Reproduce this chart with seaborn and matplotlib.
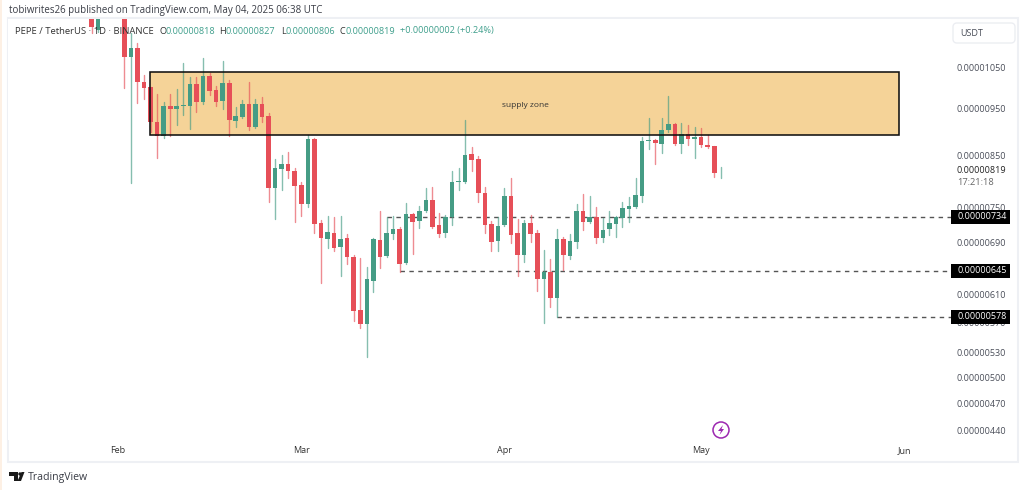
import numpy as np
import pandas as pd
import matplotlib
matplotlib.use("Agg")
import matplotlib.pyplot as plt
import matplotlib.dates as mdates
from matplotlib.patches import Rectangle, Polygon, Circle, FancyBboxPatch
import seaborn as sns

nan = float("nan")
SCALE = 1e-8
first_day = "2025-01-28"
opens = [1240,1147,nan,nan,nan,
 1240,1076,1099,1013,1001,921,890,956,949,956,956,1008,965,1028,994,968,1011,923,932,961,910,961,934,786,823,833,819,791,757,884,
 723,696,706,683,697,667,587,568,630,694,668,704,713,657,739,726,744,764,720,706,733,797,797,853,843,777,721,692,720,771,
 706,670,723,706,632,643,604,696,668,691,744,725,733,697,713,721,732,748,751,771,880,882,874,903,916,874,895,884,888,872,869,818]
highs = [1240,1240,nan,nan,nan,
 1240,1139,1112,1030,1001,985,965,985,996,1060,1025,1025,1073,1035,1004,1065,1018,954,970,1013,972,977,941,843,851,857,825,797,892,886,
 728,735,733,735,704,670,665,651,697,744,733,735,716,758,741,753,786,788,741,737,819,825,925,867,849,788,726,733,786,805,
 730,728,737,711,678,664,713,699,704,757,775,771,751,732,744,735,760,769,805,888,929,884,929,980,918,918,914,910,907,892,869,827]
lows = [1139,1142,nan,nan,nan,
 999,795,963,972,899,845,886,890,914,936,905,943,961,982,956,949,890,910,929,903,907,921,760,730,782,805,725,735,751,706,
 626,681,676,637,656,572,563,525,613,649,667,696,643,656,672,714,742,714,699,699,720,782,795,819,760,706,676,676,718,689,
 637,659,691,615,569,591,577,646,664,681,711,723,689,691,702,699,716,725,749,760,863,833,855,899,872,855,872,845,867,865,807,806]
closes = [1155,1240,nan,nan,nan,
 1076,1099,1013,999,921,890,956,949,956,958,1008,965,1028,992,965,1011,925,934,961,910,961,932,786,825,833,819,790,757,884,721,
 697,708,681,696,667,586,568,632,696,667,706,713,656,739,725,744,764,716,704,733,797,799,851,841,777,720,691,718,771,702,
 670,723,704,632,643,604,696,670,692,744,725,733,697,711,723,733,749,753,773,880,882,876,903,916,874,895,884,888,872,867,815,819]

price_ticks = [1050,950,850,750,690,650,610,570,530,500,470,440]
tick_labels = ["0.00001050","0.00000950","0.00000850","0.00000750","0.00000690","0.00000650",
               "0.00000610","0.00000570","0.00000530","0.00000500","0.00000470","0.00000440"]
month_ticks = ["2025-02-01","2025-03-01","2025-04-01","2025-05-01","2025-06-01"]
month_labels = ["Feb","Mar","Apr","May","Jun"]
zone_span = ["2025-02-05 22:00","2025-05-31 03:00"]
zone_prices = [892,1038]
level_values = [734,645,578]
level_starts = ["2025-03-14","2025-03-16","2025-04-09"]
level_labels = ["0.00000734","0.00000645","0.00000578"]
last_price = 819
view_days = ["2025-01-15 06:00","2025-06-08 03:00"]
view_prices = [430.2,1177.8]

UP, DOWN = "#459c85", "#e64f58"
TXT = "#4a4e59"

sns.set_theme(style="white")
plt.rcParams["font.family"] = ["Open Sans", "DejaVu Sans"]

W, H = 1024, 490
fig = plt.figure(figsize=(W/100, H/100), dpi=100, facecolor="white")
ax = fig.add_axes([8/W, 1-440/H, (951-8)/W, (440-19)/H])
ax.set_facecolor("white")

df = pd.DataFrame({"date": pd.date_range(first_day, periods=len(opens)),
                   "open": opens, "high": highs, "low": lows, "close": closes}).dropna()
df["dir"] = np.where(df["close"] >= df["open"], "up", "down")
df["candle"] = np.arange(len(df))
wicks = df.melt(id_vars=["date", "candle", "dir"], value_vars=["low", "high"], value_name="price")
wicks["price"] *= SCALE

ax.set_yscale("log")
sns.lineplot(data=wicks, x="date", y="price", units="candle", estimator=None, hue="dir",
             palette={"up": UP, "down": DOWN}, legend=False, sort=False, lw=1.0, alpha=0.65,
             ax=ax, zorder=4)
tops = df[["open", "close"]].max(axis=1) * SCALE
bots = df[["open", "close"]].min(axis=1) * SCALE
ax.bar(df["date"], (tops-bots).clip(lower=1.5e-8), bottom=bots, width=0.7, linewidth=0,
       color=df["dir"].map({"up": UP, "down": DOWN}), zorder=5)

x0, x1 = mdates.date2num(pd.to_datetime(zone_span))
ax.add_patch(Rectangle((x0, zone_prices[0]*SCALE), x1-x0, (zone_prices[1]-zone_prices[0])*SCALE,
                       facecolor="#f5d398", edgecolor="none", zorder=1))
ax.add_patch(Rectangle((x0, zone_prices[0]*SCALE), x1-x0, (zone_prices[1]-zone_prices[0])*SCALE,
                       facecolor="none", edgecolor="#111111", lw=1.15, zorder=6))
ax.text(mdates.date2num(pd.Timestamp("2025-04-04 06:00")), 958*SCALE, "supply zone", fontsize=6.0,
        color="#333333", ha="center", va="center", zorder=7)

for v, s in zip(level_values, level_starts):
    ax.plot([pd.Timestamp(s), pd.Timestamp(view_days[1])], [v*SCALE, v*SCALE], color="#555555",
            lw=1.0, dashes=(3.2, 3.2), zorder=3)

ax.set_xlim(pd.to_datetime(view_days))
ax.set_ylim(view_prices[0]*SCALE, view_prices[1]*SCALE)
ax.yaxis.tick_right()
ax.set_yticks([p*SCALE for p in price_ticks], tick_labels)
ax.yaxis.set_minor_locator(matplotlib.ticker.NullLocator())
ax.set_xticks(pd.to_datetime(month_ticks), month_labels)
ax.xaxis.set_minor_locator(matplotlib.ticker.NullLocator())
ax.tick_params(axis="y", length=0, pad=4.3, labelsize=6.5, labelcolor=TXT, right=False, labelright=True, left=False)
ax.tick_params(axis="x", length=0, pad=4.5, labelsize=6.5, labelcolor="#333333")
ax.set_xlabel(""); ax.set_ylabel("")
sns.despine(ax=ax, left=True, right=True, top=True, bottom=True)

ytr = ax.get_yaxis_transform()
ax.text(1+6/943, last_price*SCALE, f"{last_price*SCALE:.8f}", transform=ytr, fontsize=6.5,
        color="#222222", ha="left", va="center", clip_on=False, zorder=8)
ax.annotate("17:21:18", xy=(1+6/943, last_price*SCALE), xycoords=ytr, xytext=(0, -7), textcoords="offset pixels",
            fontsize=6.7, color="#666666", ha="left", va="top", annotation_clip=False)

def fx(x): return x/W
def fy(y): return 1-y/H
def ftext(x, y, s, **kw):
    kw.setdefault("va", "center"); kw.setdefault("ha", "left")
    fig.text(fx(x), fy(y), s, **kw)

# price labels for the horizontal levels, over the axis labels
for v, lab in zip(level_values, level_labels):
    yp = ax.transData.transform((mdates.date2num(pd.Timestamp(view_days[0])), v*SCALE))[1]
    fig.add_artist(Rectangle((951, yp-7), 59, 14, transform=None, fc="black", ec="none", zorder=20))
    fig.text(957/W, yp/H, lab, fontsize=6.5, color="white", ha="left", va="center", zorder=21)

# page furniture
fig.add_artist(Rectangle((0, 0), fx(2), 1, transform=fig.transFigure, fc="#fdf0e4", ec="none", zorder=-5))
fig.add_artist(Rectangle((fx(8), fy(462)), fx(1018-8), (462-18)/H, transform=fig.transFigure,
                         fc="none", ec="#eef0f4", lw=1.5, zorder=-2))
ftext(9, 10, "tobiwrites26 published on TradingView.com, May 04, 2025 06:38 UTC", fontsize=7.0, color="#3a3d46")
ftext(15, 31, "PEPE / TetherUS · 1D · BINANCE", fontsize=6.8, color="#333333", zorder=9)
G = "#3f9f8c"
for x, s, c in [(159,"O","#333333"),(165,"0.00000818",G),(219,"H","#333333"),(225,"0.00000827",G),
                (281,"L","#333333"),(286,"0.00000806",G),(340,"C","#333333"),(345,"0.00000819",G),
                (400,"+0.00000002 (+0.24%)",G)]:
    ftext(x, 31, s, fontsize=6.6, color=c, zorder=9)

fig.add_artist(FancyBboxPatch((953, H-43), 62, 20, boxstyle="round,pad=0,rounding_size=4",
                              transform=None, fc="white", ec="#eceef2", lw=1, zorder=3))
ftext(960, 33.5, "USDT", fontsize=6.5, color=TXT, zorder=4)

# lightning badge
fig.add_artist(Circle((721, H-430), 8, transform=None, fc="white", ec="#9c27b0", lw=1.1, zorder=8))
fig.add_artist(Polygon([(723,H-425),(718,H-431),(721,H-431),(719.5,H-435),(724,H-429),(721.5,H-429)],
                       closed=True, transform=None, fc="#9c27b0", ec="none", zorder=9))

# logo
LOGO = "#1a1a1a"
fig.add_artist(Polygon([(9,H-472),(18,H-472),(18,H-481),(13.5,H-481),(13.5,H-475.5),(9,H-475.5)],
                       closed=True, transform=None, fc=LOGO, ec="none"))
fig.add_artist(Circle((20, H-474), 1.7, transform=None, fc=LOGO, ec="none"))
fig.add_artist(Polygon([(21,H-481),(24.5,H-472),(21.5,H-472),(17.5,H-481)][::-1],
                       closed=True, transform=None, fc=LOGO, ec="none"))
ftext(28, 477, "TradingView", fontsize=7.6, color="#3a3d46")

fig.savefig("out.png", dpi=100, facecolor="white")
